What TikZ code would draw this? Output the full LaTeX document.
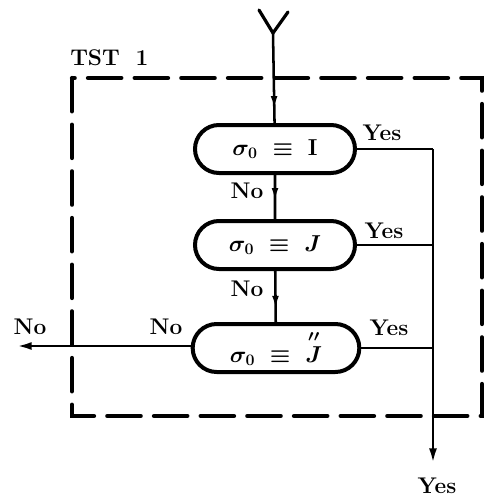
\documentclass[tikz,border=0pt]{standalone}
\usepackage{amsmath}
\usetikzlibrary{arrows.meta,decorations.markings,shapes.misc}
\begin{document}
\begin{tikzpicture}[x=0.75pt,y=-0.75pt,
  conn/.style={line width=1.9pt},
  midarrow/.style={postaction={decorate},decoration={markings,
     mark=at position #1 with {\arrow{Latex[length=10pt,width=5pt]}}}},
  endarrow/.style={-{Latex[length=11pt,width=6pt]}},
  testbox/.style={rounded rectangle,draw,line width=3pt,minimum height=36pt,
     inner sep=0pt,font=\boldmath\fontsize{17}{19}\selectfont},
  lbl/.style={font=\bfseries\fontsize{17}{19}\selectfont,inner sep=0pt},
  frame/.style={line width=3.2pt,line cap=round,dash pattern=on 25pt off 10pt}]
\useasboundingbox (0,0) rectangle (497,501);
% frame
\draw[frame] (72,78) rectangle (482,416);
\node[lbl,anchor=west] (tst) at (70,58) {TST\hspace{0.7em}1};
% boxes
\node[testbox,minimum width=120pt] (b1) at (275,149) {$\sigma_{0}\;\equiv\;\mathrm{I}$};
\node[testbox,minimum width=120pt] (b2) at (275,245) {$\sigma_{0}\;\equiv\;J$};
\node[testbox,minimum width=125pt] (b3) at (276,348) {$\sigma_{0}\;\equiv\;\overset{\prime\prime}{J}$};
% entry
\coordinate (top) at (273,33);
\coordinate (ya) at (259,10);
\coordinate (yb) at (288,12);
\draw[line width=2.4pt,line cap=round] (ya) -- (top) -- (yb);
\draw[conn,midarrow=0.85] (top) -- (b1);
\draw[conn,midarrow=0.6] (b1) -- (b2);
\draw[conn,midarrow=0.75] (b2) -- (b3);
% yes collector
\coordinate (c1) at (433,149);
\coordinate (yend) at (433,463);
\draw[conn] (b1.east) -- (c1);
\draw[conn,endarrow] (c1) -- (yend);
\draw[conn] (b2.east) -- (b2.east -| c1);
\draw[conn] (b3.east) -- (b3.east -| c1);
% no exit
\coordinate (noend) at (17,346);
\draw[conn,endarrow] (b3.west |- noend) -- (noend);
% labels
\node[lbl] (y1) at (382,133) {Yes};
\node[lbl] (y2) at (384,231) {Yes};
\node[lbl] (y3) at (389,328) {Yes};
\node[lbl] (y4) at (437,486) {Yes};
\node[lbl] (n1) at (247,191) {No};
\node[lbl] (n2) at (247,289) {No};
\node[lbl] (n3) at (166,327) {No};
\node[lbl] (n4) at (30,327) {No};
\end{tikzpicture}
\end{document}
